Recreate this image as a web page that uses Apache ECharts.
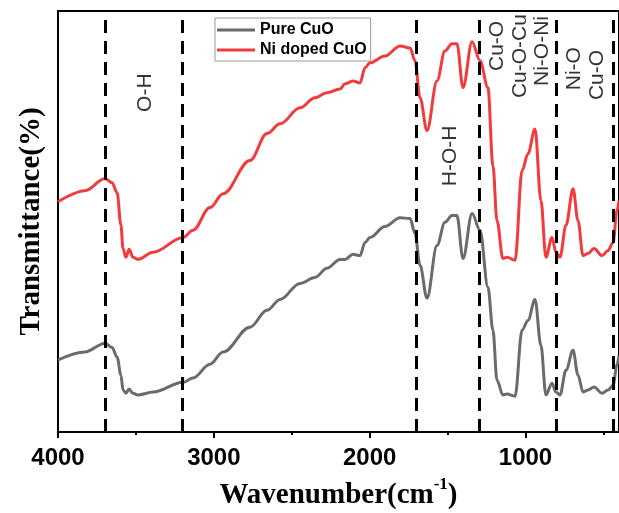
<!DOCTYPE html>
<html>
<head>
<meta charset="utf-8">
<script src="https://cdn.jsdelivr.net/npm/echarts@6/dist/echarts.min.js"></script>
<style>
html,body{margin:0;padding:0;background:#fff;}
#chart{width:619px;height:513px;}
</style>
</head>
<body>
<div id="chart"></div>
<script>
// Wavenumbers (cm-1) sampled along the spectra
const wavenumbers = [4000,3827,3698,3653,3621,3596,3583,3564,3544,3519,3487,3390,3198,3134,3025,2941,2768,2659,2575,2447,2351,2274,2190,2158,2107,2062,2030,1998,1902,1805,1741,1709,1677,1632,1568,1517,1472,1440,1401,1343,1292,1241,1209,1183,1145,1119,1067,1022,984,939,901,869,830,805,779,740,695,663,631,599,560,509,470,438,413,400];
// Ni doped CuO transmittance (a.u.)
const niDoped = [54.7,57.3,60.2,59.2,56.9,49.1,43.6,41.5,43.4,41.5,41.0,42.7,46.2,47.9,53.3,56.6,64.5,70.9,73.2,77.0,79.4,80.6,81.5,82.7,83.4,82.9,86.5,87.7,89.3,91.7,91.2,88.2,79.4,71.6,83.4,90.5,92.2,92.2,81.8,92.7,88.2,81.8,63.3,50.2,41.2,41.5,40.8,62.1,66.1,72.0,55.0,41.5,46.2,42.7,41.5,49.1,57.8,50.2,41.9,42.4,43.6,41.9,43.1,45.0,52.6,55.0];
// Pure CuO transmittance (a.u.)
const pureCuO = [17.1,19.0,21.1,20.1,17.8,13.5,10.0,9.2,10.2,9.2,8.8,9.5,11.8,12.8,16.1,19.0,24.9,28.9,31.5,35.3,36.7,38.9,41.0,41.0,42.2,41.9,45.0,46.2,48.8,50.9,50.7,47.2,39.6,31.8,44.3,49.8,51.4,51.4,41.2,51.9,47.9,34.4,24.2,12.3,8.8,9.0,8.5,24.2,26.5,31.5,20.6,8.8,11.6,9.5,8.8,14.7,19.4,13.5,9.5,10.0,10.7,9.2,10.0,11.1,15.9,18.2];
// Band reference lines (cm-1)
const bandLines = [3700,3200,1700,1300,800,435];
// Band annotations
const annotNames = ['O-H','H-O-H','Cu-O','Cu-O-Cu','Ni-O-Ni','Ni-O','Cu-O'];
const annotX = [3442,1485,1183,1035,894,689,541];
const annotY = [80.6,65.6,91.7,89.3,90.5,86.3,84.8];
// Axis ticks
const majorTicks = [1000,2000,3000,4000];
const minorTicks = [500,1500,2500,3500];
const seriesNames = ['Pure CuO','Ni doped CuO'];

const chart = echarts.init(document.getElementById('chart'), null, {renderer:'canvas'});
const pair = arr => wavenumbers.map((w,i)=>[w,arr[i]]);

const option = {
  animation:false,
  backgroundColor:'#fff',
  grid:{left:58,right:0,top:11,bottom:81,outerBoundsMode:'none',containLabel:false,show:true,borderColor:'#000',borderWidth:2,backgroundColor:'transparent'},
  legend:{
    data:seriesNames.map(n=>({name:n,icon:'rect'})),
    orient:'vertical',
    left:215, top:18,
    padding:[4,4,3,2],
    itemWidth:38, itemHeight:3, itemGap:4,
    borderColor:'#999', borderWidth:1,
    textStyle:{fontFamily:'Liberation Sans, Arial, sans-serif',fontWeight:'bold',fontSize:16,color:'#000',lineHeight:16}
  },
  xAxis:[{
    type:'value', min:400, max:4000, inverse:true,
    axisLine:{show:true,lineStyle:{color:'#000',width:2}},
    axisTick:{show:true,customValues:majorTicks,length:6,lineStyle:{color:'#000',width:2}},
    axisLabel:{show:true,customValues:majorTicks,margin:14,formatter:v=>String(v),color:'#000',fontFamily:'Liberation Sans, Arial, sans-serif',fontWeight:'bold',fontSize:24},
    splitLine:{show:false},
    name:'Wavenumber(cm{sup|-1})',
    nameLocation:'middle', nameGap:44,
    nameTextStyle:{color:'#000',fontFamily:'Liberation Serif, Times New Roman, serif',fontWeight:'bold',fontSize:29,
      rich:{sup:{fontFamily:'Liberation Serif, Times New Roman, serif',fontWeight:'bold',fontSize:17,verticalAlign:'top',lineHeight:40,color:'#000'}}}
  },{
    type:'value', min:400, max:4000, inverse:true, position:'bottom',
    axisLine:{show:false},
    axisTick:{show:true,customValues:minorTicks,length:3,lineStyle:{color:'#000',width:2}},
    axisLabel:{show:false},
    splitLine:{show:false}
  }],
  yAxis:{
    type:'value', min:0, max:100,
    axisLine:{show:true,lineStyle:{color:'#000',width:2}},
    axisTick:{show:false}, axisLabel:{show:false}, splitLine:{show:false},
    name:'Transmittance(%)', nameLocation:'middle', nameGap:12,
    nameTextStyle:{color:'#000',fontFamily:'Liberation Serif, Times New Roman, serif',fontWeight:'bold',fontSize:29}
  },
  series:[
    {
      name:'Pure CuO', type:'line', data:pair(pureCuO), symbol:'none', smooth:0.35, smoothMonotone:'x',
      lineStyle:{color:'#6b6b6b',width:3}, itemStyle:{color:'#6b6b6b'}, z:3,
      markLine:{
        silent:true, symbol:['none','none'], label:{show:false},
        lineStyle:{color:'#000',type:[13,8],width:3},
        data:bandLines.map(v=>({xAxis:v}))
      }
    },
    {
      name:'Ni doped CuO', type:'line', data:pair(niDoped), symbol:'none', smooth:0.35, smoothMonotone:'x',
      lineStyle:{color:'#f03c3c',width:3}, itemStyle:{color:'#f03c3c'}, z:3
    },
    {
      name:'bands', type:'scatter', symbolSize:0, silent:true, z:5,
      data:annotNames.map((n,i)=>({name:n,value:[annotX[i],annotY[i]]})),
      label:{show:true,position:'inside',rotate:90,formatter:p=>p.name,color:'#000',
        fontFamily:'Liberation Sans, Arial, sans-serif',fontSize:21}
    }
  ]
};
chart.setOption(option);
</script>
</body>
</html>
